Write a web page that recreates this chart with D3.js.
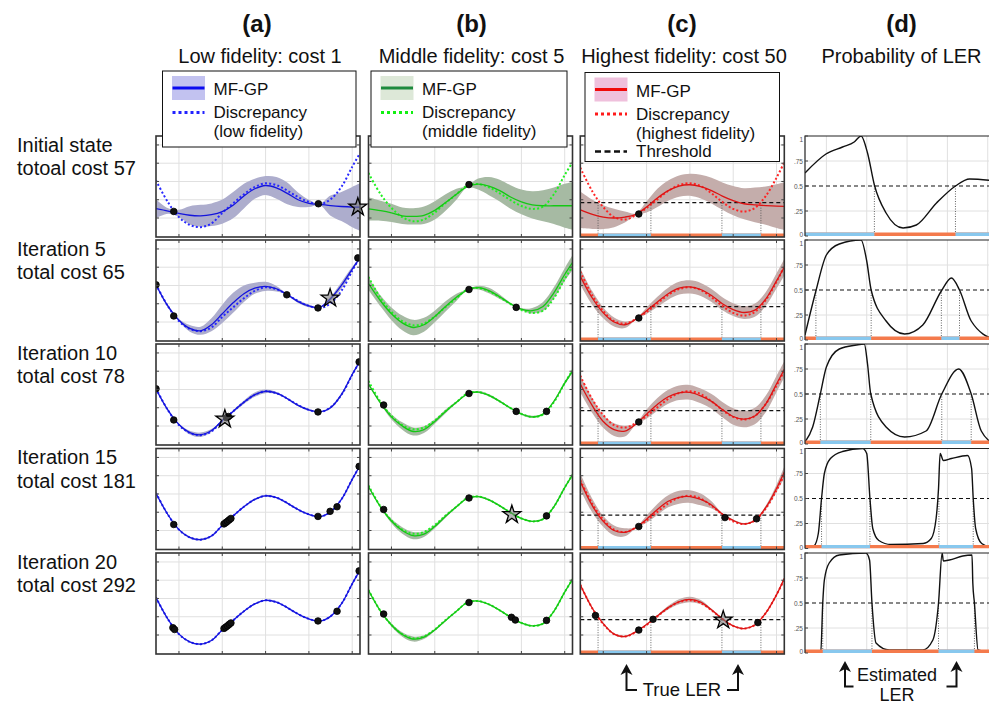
<!DOCTYPE html>
<html><head><meta charset="utf-8">
<script src="https://cdn.jsdelivr.net/npm/d3@7"></script>
<style>
body{margin:0;background:#fff;overflow:hidden}
text{font-family:"Liberation Sans",Arial,Helvetica,sans-serif}
</style>
</head><body>
<svg id="chart" width="989" height="704"></svg>
<script>
// ---------------- DATA ----------------
const columnLetters = ["(a)", "(b)", "(c)", "(d)"];
const columnTitles = ["Low fidelity: cost 1", "Middle fidelity: cost 5", "Highest fidelity: cost 50", "Probability of LER"];
const rowLine1 = ["Initial state", "Iteration 5", "Iteration 10", "Iteration 15", "Iteration 20"];
const rowLine2 = ["totoal cost 57", "total cost 65", "total cost 78", "total cost 181", "total cost 292"];
const xTicks = [0, 1, 2, 3, 4];
const yTicks = [0, 1, 2, 3, 4];
const pTicks = [0, 0.25, 0.5, 0.75, 1];
const pTickLabels = ["0", ".25", "0.5", ".75", "1"];

const XS = [-0.53, -0.25, 0, 0.25, 0.5, 0.75, 1, 1.25, 1.5, 1.75, 2, 2.25, 2.5, 2.75, 3, 3.25, 3.5, 3.75, 4, 4.18];

// true functions (dotted "Discrepancy" curves)
const trueLow  = [2.05, 0.85, 0.05, -0.38, -0.5, -0.3, 0.28, 0.8, 1.3, 1.7, 1.9, 1.8, 1.5, 1.15, 0.88, 0.76, 1.02, 1.7, 2.8, 3.55];
const trueMid  = [2.46, 1.3, 0.55, 0.05, -0.18, -0.08, 0.3, 0.82, 1.3, 1.78, 1.86, 1.68, 1.35, 0.98, 0.66, 0.5, 0.62, 1.3, 2.35, 3.05];
const trueHigh = [2.75, 1.45, 0.6, 0.05, -0.08, 0.15, 0.55, 1.02, 1.48, 1.8, 1.9, 1.75, 1.35, 0.88, 0.5, 0.35, 0.55, 1.2, 2.2, 3.05];

// MF-GP means per row, column (a)
const meanA = [
  [0.51, 0.38, 0.25, 0.15, 0.12, 0.18, 0.35, 0.7, 1.2, 1.6, 1.78, 1.65, 1.35, 1.0, 0.8, 0.75, 0.68, 0.63, 0.6, 0.6],
  [2.04, 0.85, 0.1, -0.35, -0.48, -0.15, 0.45, 1.05, 1.55, 1.85, 1.95, 1.82, 1.5, 1.12, 0.88, 0.8, 1.28, 2.0, 2.9, 3.51],
  [2.02, 0.85, 0.08, -0.36, -0.48, -0.25, 0.3, 0.8, 1.3, 1.72, 1.9, 1.8, 1.5, 1.13, 0.88, 0.77, 1.0, 1.72, 2.82, 3.55],
  [2.04, 0.85, 0.05, -0.38, -0.5, -0.3, 0.28, 0.8, 1.3, 1.7, 1.9, 1.8, 1.5, 1.15, 0.88, 0.76, 1.02, 1.7, 2.8, 3.55],
  [2.05, 0.85, 0.05, -0.38, -0.5, -0.3, 0.28, 0.8, 1.3, 1.7, 1.9, 1.8, 1.5, 1.15, 0.88, 0.76, 1.02, 1.7, 2.8, 3.55]
];
const sdA = [
  [0.52, 0.15, 0.2, 0.5, 0.6, 0.62, 0.66, 0.72, 0.68, 0.55, 0.52, 0.6, 0.6, 0.4, 0.2, 0.05, 0.55, 0.8, 1.1, 1.3],
  [0.02, 0.08, 0.06, 0.18, 0.22, 0.35, 0.5, 0.55, 0.45, 0.3, 0.25, 0.15, 0.02, 0.08, 0.07, 0.03, 0.1, 0.18, 0.12, 0.02],
  [0.02, 0.04, 0.04, 0.1, 0.12, 0.08, 0.03, 0.06, 0.1, 0.12, 0.1, 0.06, 0.03, 0.05, 0.04, 0.02, 0.06, 0.08, 0.06, 0.02],
  [0.02, 0.03, 0.03, 0.04, 0.05, 0.04, 0.02, 0.02, 0.03, 0.04, 0.04, 0.03, 0.03, 0.03, 0.02, 0.02, 0.02, 0.03, 0.03, 0.02],
  [0.02, 0.02, 0.02, 0.03, 0.03, 0.03, 0.02, 0.02, 0.02, 0.03, 0.03, 0.02, 0.02, 0.02, 0.02, 0.02, 0.02, 0.02, 0.02, 0.02]
];
const meanB = [
  [0.5, 0.4, 0.28, 0.12, 0.09, 0.15, 0.42, 0.85, 1.3, 1.72, 1.86, 1.75, 1.5, 1.15, 0.88, 0.72, 0.67, 0.67, 0.67, 0.67],
  [2.1, 1.15, 0.45, -0.05, -0.3, -0.15, 0.3, 0.85, 1.35, 1.75, 1.88, 1.72, 1.38, 1.0, 0.7, 0.62, 0.85, 1.6, 2.6, 3.25],
  [2.3, 1.25, 0.5, 0.0, -0.3, -0.2, 0.25, 0.8, 1.3, 1.75, 1.86, 1.68, 1.35, 0.98, 0.66, 0.5, 0.65, 1.35, 2.35, 3.0],
  [2.4, 1.28, 0.52, 0.0, -0.28, -0.2, 0.22, 0.78, 1.3, 1.76, 1.86, 1.68, 1.35, 0.98, 0.66, 0.5, 0.62, 1.3, 2.35, 3.05],
  [2.45, 1.3, 0.55, 0.03, -0.22, -0.12, 0.28, 0.8, 1.3, 1.78, 1.86, 1.68, 1.35, 0.98, 0.66, 0.5, 0.62, 1.3, 2.35, 3.05]
];
const sdB = [
  [0.64, 0.55, 0.5, 0.45, 0.45, 0.48, 0.5, 0.45, 0.3, 0.05, 0.3, 0.5, 0.6, 0.65, 0.68, 0.75, 0.85, 1.0, 1.2, 1.3],
  [0.35, 0.3, 0.35, 0.4, 0.42, 0.38, 0.32, 0.28, 0.2, 0.03, 0.1, 0.15, 0.12, 0.05, 0.05, 0.15, 0.25, 0.3, 0.35, 0.4],
  [0.05, 0.06, 0.15, 0.2, 0.22, 0.18, 0.12, 0.1, 0.06, 0.02, 0.05, 0.06, 0.05, 0.02, 0.04, 0.06, 0.04, 0.06, 0.08, 0.08],
  [0.05, 0.04, 0.12, 0.18, 0.2, 0.15, 0.1, 0.08, 0.05, 0.02, 0.04, 0.05, 0.04, 0.02, 0.03, 0.04, 0.03, 0.05, 0.06, 0.06],
  [0.04, 0.03, 0.08, 0.12, 0.14, 0.1, 0.06, 0.05, 0.03, 0.02, 0.03, 0.03, 0.03, 0.02, 0.02, 0.02, 0.02, 0.03, 0.04, 0.04]
];
const meanC = [
  [0.45, 0.2, 0.05, 0.0, 0.05, 0.2, 0.6, 1.1, 1.5, 1.75, 1.82, 1.72, 1.5, 1.2, 0.95, 0.78, 0.72, 0.68, 0.65, 0.64],
  [2.5, 1.3, 0.5, 0.0, -0.15, 0.15, 0.62, 1.1, 1.55, 1.85, 1.92, 1.78, 1.45, 1.0, 0.68, 0.52, 0.65, 1.25, 2.25, 3.0],
  [2.3, 1.1, 0.25, -0.2, -0.28, 0.1, 0.65, 1.18, 1.6, 1.82, 1.84, 1.65, 1.35, 0.9, 0.52, 0.38, 0.55, 1.2, 2.3, 3.1],
  [2.68, 1.35, 0.5, 0.0, -0.1, 0.15, 0.62, 1.15, 1.6, 1.82, 1.86, 1.7, 1.4, 0.9, 0.55, 0.36, 0.55, 1.25, 2.3, 3.2],
  [2.75, 1.45, 0.62, 0.05, -0.08, 0.17, 0.58, 1.05, 1.5, 1.82, 1.95, 1.8, 1.38, 0.88, 0.5, 0.35, 0.55, 1.2, 2.2, 3.1]
];
const sdC = [
  [1.0, 0.8, 0.65, 0.5, 0.3, 0.05, 0.3, 0.5, 0.55, 0.58, 0.6, 0.65, 0.7, 0.75, 0.8, 0.85, 0.95, 1.05, 1.2, 1.3],
  [0.45, 0.38, 0.3, 0.25, 0.18, 0.04, 0.18, 0.28, 0.33, 0.35, 0.36, 0.36, 0.36, 0.36, 0.35, 0.35, 0.36, 0.38, 0.42, 0.45],
  [0.45, 0.4, 0.35, 0.35, 0.3, 0.05, 0.25, 0.35, 0.38, 0.4, 0.4, 0.4, 0.4, 0.42, 0.45, 0.45, 0.45, 0.45, 0.45, 0.45],
  [0.45, 0.38, 0.3, 0.28, 0.22, 0.04, 0.2, 0.3, 0.33, 0.35, 0.35, 0.32, 0.2, 0.04, 0.05, 0.05, 0.05, 0.1, 0.2, 0.3],
  [0.03, 0.02, 0.03, 0.04, 0.04, 0.02, 0.03, 0.05, 0.1, 0.14, 0.15, 0.12, 0.06, 0.03, 0.02, 0.02, 0.02, 0.03, 0.03, 0.03]
];

// observations (black dots) per row
const dotsAx = [[-0.12, 3.22], [-0.53, -0.12, 2.49, 3.21, 4.13], [-0.53, -0.12, 1.1, 1.14, 3.21, 4.16],
  [-0.12, 1.04, 1.08, 1.12, 1.16, 1.2, 3.21, 3.49, 3.65, 4.16], [-0.14, -0.1, 1.04, 1.08, 1.12, 1.16, 1.2, 3.21, 3.65, 4.16]];
const dotsAy = [[0.36, 0.78], [2.04, 0.33, 1.49, 0.77, 3.51], [2.04, 0.33, 0.45, 0.52, 0.77, 3.51],
  [0.33, 0.36, 0.43, 0.5, 0.58, 0.66, 0.77, 1.05, 1.3, 3.51], [0.4, 0.3, 0.36, 0.43, 0.5, 0.58, 0.66, 0.77, 1.3, 3.51]];
const dotsBx = [[1.79], [1.79, 2.88], [-0.18, 1.79, 2.88, 3.58], [-0.18, 1.79, 3.58], [-0.18, 1.79, 2.77, 2.86, 3.58]];
const dotsBy = [[1.83], [1.78, 0.8], [1.15, 1.78, 0.8, 0.8], [1.15, 1.78, 0.8], [1.15, 1.78, 0.97, 0.82, 0.8]];
const dotsCx = [[0.82], [0.82], [0.82], [0.82, 2.81, 3.54], [-0.18, 0.82, 1.15, 3.57]];
const dotsCy = [[0.22], [0.22], [0.22], [0.22, 0.71, 0.64], [1.07, 0.27, 0.86, 0.68]];

// next query point (star): column index, row index, x, y
const starCol = [0, 0, 0, 1, 2];
const starRow = [0, 1, 2, 3, 4];
const starX = [4.13, 3.49, 1.06, 2.78, 2.77];
const starY = [0.6, 1.31, 0.38, 0.87, 0.82];

const threshold = 0.84;
const trueLER = [[-0.12, 1.1], [2.74, 3.64]];

// probability of LER (column d)
const probX = [
  [-0.53, -0.01, 0.4, 0.69, 0.86, 1.02, 1.19, 1.48, 1.9, 2.23, 2.73, 3.2, 3.55, 4.18],
  [-0.53, -0.26, 0, 0.32, 0.86, 1.0, 1.11, 1.48, 1.94, 2.39, 2.85, 3.1, 3.3, 3.59, 4.18],
  [-0.53, -0.34, -0.15, 0, 0.32, 0.74, 0.94, 1.02, 1.1, 1.48, 1.94, 2.47, 2.86, 3.28, 3.59, 3.84, 4.18],
  [-0.53, -0.3, -0.2, -0.12, -0.05, 0.1, 0.4, 0.9, 1.0, 1.08, 1.15, 1.3, 1.6, 2.4, 2.6, 2.72, 2.78, 2.82, 2.9, 3.1, 3.5, 3.6, 3.64, 3.7, 3.85, 4.18],
  [-0.53, -0.14, -0.09, -0.05, 0.07, 0.32, 0.98, 1.07, 1.13, 1.23, 1.56, 2.39, 2.64, 2.78, 2.87, 2.9, 3.05, 3.38, 3.61, 3.63, 3.67, 3.76, 4.18]
];
const probY = [
  [0.63, 0.82, 0.89, 0.94, 1.0, 0.83, 0.51, 0.23, 0.08, 0.11, 0.33, 0.5, 0.57, 0.55],
  [0.05, 0.49, 0.85, 0.96, 1.0, 0.79, 0.5, 0.19, 0.06, 0.15, 0.49, 0.62, 0.5, 0.19, 0.0],
  [0.02, 0.17, 0.5, 0.77, 0.95, 0.99, 1.0, 0.8, 0.5, 0.17, 0.07, 0.13, 0.5, 0.75, 0.5, 0.13, 0.0],
  [0.0, 0.03, 0.15, 0.5, 0.75, 0.9, 0.97, 1.0, 0.95, 0.5, 0.2, 0.08, 0.04, 0.05, 0.1, 0.3, 0.6, 0.95, 0.88, 0.9, 0.93, 0.8, 0.5, 0.2, 0.05, 0.0],
  [0.0, 0.0, 0.5, 0.73, 0.9, 0.98, 1.0, 0.93, 0.5, 0.1, 0.03, 0.03, 0.13, 0.5, 1.0, 0.92, 0.93, 0.97, 0.98, 0.7, 0.5, 0.03, 0.0]
];
const estLER = [
  [[-0.53, 1.19], [3.2, 4.18]],
  [[-0.26, 1.11], [2.85, 3.3]],
  [[-0.15, 1.1], [2.86, 3.59]],
  [[-0.12, 1.08], [2.79, 3.64]],
  [[-0.09, 1.13], [2.78, 3.67]]
];

// ---------------- LAYOUT / STYLE ----------------
const svg = d3.select("#chart");
const colLeft = [156, 368.5, 580.3];
const W = 204, H = 101;
const dLeft = 805, dW = 190, dH = 100;
const rowTop = [136, 240, 344, 448.5, 553];
const colStyle = [
  {band: "#adadcd", line: "#1414dc", dotted: "#2828ff", truth: trueLow, means: meanA, sds: sdA, dx: dotsAx, dy: dotsAy},
  {band: "#a6baa3", line: "#14c814", dotted: "#22f022", truth: trueMid, means: meanB, sds: sdB, dx: dotsBx, dy: dotsBy},
  {band: "#c4adab", line: "#dc1414", dotted: "#ff2424", truth: trueHigh, means: meanC, sds: sdC, dx: dotsCx, dy: dotsCy}
];
const ORANGE = "#f47a4c", BLUE = "#88c8ee";

const x = d3.scaleLinear().domain([-0.53, 4.18]).range([0, W]);
const y = d3.scaleLinear().domain([-1.04, 4.49]).range([H, 0]);
const xd = d3.scaleLinear().domain([-0.53, 4.18]).range([0, dW]);
const yd = d3.scaleLinear().domain([0, 1]).range([dH, 0]);

const curve = d3.curveCatmullRom.alpha(0.5);
const defs = svg.append("defs");
defs.append("clipPath").attr("id", "clipP").append("rect").attr("width", W).attr("height", H);
defs.append("clipPath").attr("id", "clipD").append("rect").attr("width", dW).attr("height", dH);

function lerBar(g, sx, width, height, intervals) {
  g.append("rect").attr("x", 0).attr("y", height - 3.5).attr("width", width).attr("height", 3.5).attr("fill", ORANGE);
  g.selectAll(null).data(intervals).enter().append("rect")
    .attr("x", d => sx(d[0])).attr("width", d => sx(d[1]) - sx(d[0]))
    .attr("y", height - 3.5).attr("height", 3.5).attr("fill", BLUE);
}

for (let r = 0; r < 5; r++) {
  for (let c = 0; c < 3; c++) {
    const st = colStyle[c];
    const g = svg.append("g").attr("transform", `translate(${colLeft[c]},${rowTop[r]})`);
    const inner = g.append("g").attr("clip-path", "url(#clipP)");
    inner.selectAll(null).data(xTicks).enter().append("line")
      .attr("x1", d => x(d)).attr("x2", d => x(d)).attr("y1", 0).attr("y2", H)
      .attr("stroke", "#e0e0e0").attr("stroke-width", 1);
    inner.selectAll(null).data(yTicks).enter().append("line")
      .attr("y1", d => y(d)).attr("y2", d => y(d)).attr("x1", 0).attr("x2", W)
      .attr("stroke", "#e0e0e0").attr("stroke-width", 1);
    const mean = st.means[r], sd = st.sds[r];
    const area = d3.area().x((d, i) => x(XS[i])).y0((d, i) => y(mean[i] - sd[i])).y1((d, i) => y(mean[i] + sd[i])).curve(curve);
    inner.append("path").attr("d", area(mean)).attr("fill", st.band).attr("stroke", "none");
    const line = d3.line().x((d, i) => x(XS[i])).y(d => y(d)).curve(curve);
    if (c === 2) {
      inner.append("line").attr("x1", 0).attr("x2", W).attr("y1", y(threshold)).attr("y2", y(threshold))
        .attr("stroke", "#111").attr("stroke-width", 1.3).attr("stroke-dasharray", "4,3");
      const bounds = trueLER.flat();
      inner.selectAll(null).data(bounds).enter().append("line")
        .attr("x1", d => x(d)).attr("x2", d => x(d)).attr("y1", y(threshold)).attr("y2", H)
        .attr("stroke", "#555").attr("stroke-width", 0.9).attr("stroke-dasharray", "1,1.5");
    }
    inner.append("path").attr("d", line(st.truth)).attr("fill", "none").attr("stroke", st.dotted)
      .attr("stroke-width", 2).attr("stroke-dasharray", "2,2.2");
    inner.append("path").attr("d", line(mean)).attr("fill", "none").attr("stroke", st.line).attr("stroke-width", 1.3);
    if (c === 2) lerBar(inner, x, W, H, trueLER);
    inner.selectAll(null).data(st.dx[r]).enter().append("circle")
      .attr("cx", d => x(d)).attr("cy", (d, i) => y(st.dy[r][i])).attr("r", 3.3)
      .attr("fill", "#111").attr("stroke", "#000").attr("stroke-width", 0.8);
    g.append("rect").attr("width", W).attr("height", H).attr("fill", "none").attr("stroke", "#333").attr("stroke-width", 1.6);
    const tk = g.append("g").attr("stroke", "#444").attr("stroke-width", 1);
    tk.selectAll(null).data(yTicks).enter().append("line").attr("x1", 0).attr("x2", 3).attr("y1", d => y(d)).attr("y2", d => y(d));
    tk.selectAll(null).data(yTicks).enter().append("line").attr("x1", W).attr("x2", W - 3).attr("y1", d => y(d)).attr("y2", d => y(d));
    tk.selectAll(null).data(xTicks).enter().append("line").attr("y1", 0).attr("y2", 3).attr("x1", d => x(d)).attr("x2", d => x(d));
    tk.selectAll(null).data(xTicks).enter().append("line").attr("y1", H).attr("y2", H - 3).attr("x1", d => x(d)).attr("x2", d => x(d));
  }
  // column d
  const g = svg.append("g").attr("transform", `translate(${dLeft},${rowTop[r]})`);
  const inner = g.append("g").attr("clip-path", "url(#clipD)");
  inner.selectAll(null).data(xTicks).enter().append("line")
    .attr("x1", d => xd(d)).attr("x2", d => xd(d)).attr("y1", 0).attr("y2", dH)
    .attr("stroke", "#e0e0e0");
  inner.selectAll(null).data([0.25, 0.75]).enter().append("line")
    .attr("y1", d => yd(d)).attr("y2", d => yd(d)).attr("x1", 0).attr("x2", dW)
    .attr("stroke", "#e0e0e0");
  inner.append("line").attr("x1", 0).attr("x2", dW).attr("y1", yd(0.5)).attr("y2", yd(0.5))
    .attr("stroke", "#111").attr("stroke-width", 1.2).attr("stroke-dasharray", "4,3");
  const cross = estLER[r].flat().filter(v => v > -0.5 && v < 4.1);
  inner.selectAll(null).data(cross).enter().append("line")
    .attr("x1", d => xd(d)).attr("x2", d => xd(d)).attr("y1", yd(0.5)).attr("y2", dH)
    .attr("stroke", "#555").attr("stroke-width", 0.9).attr("stroke-dasharray", "1,1.5");
  const pl = d3.line().x(d => xd(d)).y((d, i) => yd(probY[r][i])).curve(d3.curveMonotoneX);
  inner.append("path").attr("d", pl(probX[r])).attr("fill", "none").attr("stroke", "#111").attr("stroke-width", 1.4);
  lerBar(inner, xd, dW, dH, estLER[r]);
  g.append("path").attr("d", `M${dW},0H0V${dH}`).attr("fill", "none").attr("stroke", "#222").attr("stroke-width", 1.2);
  g.selectAll(null).data(pTicks).enter().append("line")
    .attr("x1", 0).attr("x2", 3).attr("y1", d => yd(d)).attr("y2", d => yd(d)).attr("stroke", "#444");
  g.selectAll(null).data(pTicks).enter().append("text")
    .attr("x", -2)
    .attr("y", d => d === 0 ? yd(d) + 1 : (d === 1 ? yd(d) + 5.5 : yd(d) + 2.5))
    .attr("text-anchor", "end")
    .attr("font-size", 6.5).attr("fill", "#555").text((d, i) => pTickLabels[i]);

  // row labels
  svg.append("text").attr("x", 17).attr("y", rowTop[r] + 15.5).attr("font-size", 20).attr("fill", "#111").text(rowLine1[r]);
  svg.append("text").attr("x", 17).attr("y", rowTop[r] + 39).attr("font-size", 20).attr("fill", "#111").text(rowLine2[r]);
}

// column headers
const headX = [257, 471.5, 682, 901.5];
const titleX = [260, 471.5, 684, 901.5];
headX.forEach((hx, i) => {
  svg.append("text").attr("x", hx).attr("y", 32).attr("text-anchor", "middle").attr("font-size", 24)
    .attr("font-weight", "bold").attr("fill", "#111").text(columnLetters[i]);
  svg.append("text").attr("x", titleX[i]).attr("y", 63).attr("text-anchor", "middle").attr("font-size", 20)
    .attr("fill", "#111").text(columnTitles[i]);
});

// legends
const legends = [
  {x: 162.5, w: 193.5, top: 71, h: 76, patch: "#c2c2f0", line: "#0a0af0", dotted: "#2222ff", lab2: "(low fidelity)", thr: false},
  {x: 371, w: 196, top: 71, h: 76, patch: "#dde8d8", line: "#1e8a3e", dotted: "#12f012", lab2: "(middle fidelity)", thr: false},
  {x: 585, w: 194.5, top: 72.5, h: 89, patch: "#efc0dc", line: "#f00a0a", dotted: "#ff1a1a", lab2: "(highest fidelity)", thr: true}
];
legends.forEach(L => {
  const g = svg.append("g").attr("transform", `translate(${L.x},${L.top})`);
  g.append("rect").attr("width", L.w).attr("height", L.h).attr("fill", "#fff").attr("stroke", "#111").attr("stroke-width", 1);
  g.append("rect").attr("x", 9.5).attr("y", 5).attr("width", 33).attr("height", 24).attr("fill", L.patch);
  g.append("line").attr("x1", 10).attr("x2", 42).attr("y1", 17).attr("y2", 17).attr("stroke", L.line).attr("stroke-width", 3);
  g.append("text").attr("x", 51).attr("y", 24).attr("font-size", 17).attr("fill", "#111").text("MF-GP");
  g.append("line").attr("x1", 10).attr("x2", 42).attr("y1", 41.5).attr("y2", 41.5).attr("stroke", L.dotted)
    .attr("stroke-width", 3).attr("stroke-dasharray", "3,3");
  g.append("text").attr("x", 51).attr("y", 47).attr("font-size", 17).attr("fill", "#111").text("Discrepancy");
  g.append("text").attr("x", 51).attr("y", 66).attr("font-size", 17).attr("fill", "#111").text(L.lab2);
  if (L.thr) {
    g.append("line").attr("x1", 10).attr("x2", 42).attr("y1", 79).attr("y2", 79).attr("stroke", "#111")
      .attr("stroke-width", 2.5).attr("stroke-dasharray", "6,3.5");
    g.append("text").attr("x", 51).attr("y", 84.5).attr("font-size", 17).attr("fill", "#111").text("Threshold");
  }
});

// stars
starCol.forEach((c, i) => {
  svg.append("path").attr("d", d3.symbol().type(d3.symbolStar).size(100)())
    .attr("transform", `translate(${colLeft[c] + x(starX[i])},${rowTop[starRow[i]] + y(starY[i])})`)
    .attr("fill", "#777").attr("fill-opacity", 0.55).attr("stroke", "#000").attr("stroke-width", 1.3);
});

// bottom annotations
function arrow(xv, yTop, yBot, xh) {
  const g = svg.append("g");
  g.append("path").attr("d", `M${xv},${yTop + 8}V${yBot}H${xh}`).attr("fill", "none").attr("stroke", "#111").attr("stroke-width", 2);
  g.append("path").attr("d", `M${xv - 6},${yTop + 11}L${xv},${yTop}L${xv + 6},${yTop + 11}L${xv},${yTop + 8}Z`).attr("fill", "#111");
}
arrow(626.5, 664, 690, 637);
arrow(738, 664, 690, 727);
svg.append("text").attr("x", 682).attr("y", 696).attr("text-anchor", "middle").attr("font-size", 18.5).attr("fill", "#111").text("True LER");
arrow(845, 661, 686.5, 853.5);
arrow(956.5, 661, 686.5, 946.5);
svg.append("text").attr("x", 897).attr("y", 681).attr("text-anchor", "middle").attr("font-size", 18).attr("fill", "#111").text("Estimated");
svg.append("text").attr("x", 897).attr("y", 701).attr("text-anchor", "middle").attr("font-size", 18).attr("fill", "#111").text("LER");
</script>
</body></html>
